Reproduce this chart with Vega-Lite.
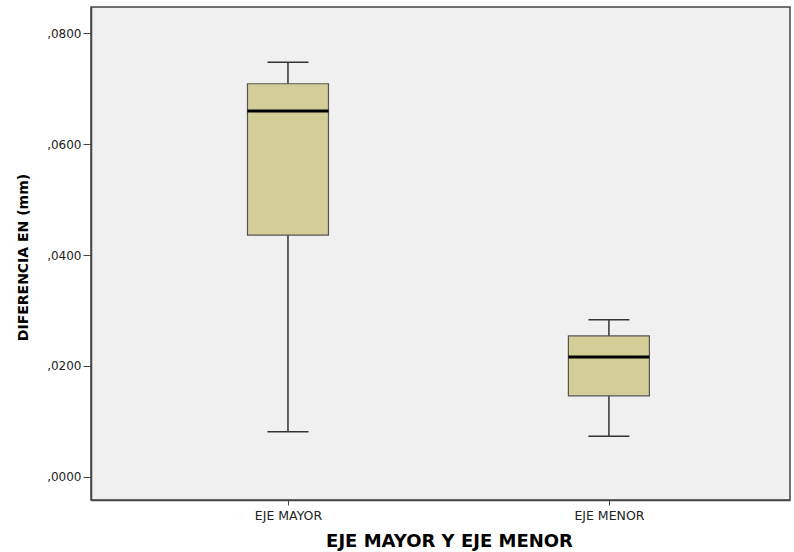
{
  "$schema": "https://vega.github.io/schema/vega-lite/v6.json",
  "width": 699,
  "height": 493,
  "autosize": {"type": "none"},
  "padding": {"left": 91, "top": 7, "right": 4, "bottom": 52},
  "background": "white",
  "config": {
    "view": {"fill": "#f0f0f0", "stroke": "#444444", "strokeWidth": 1.5},
    "font": "DejaVu Sans"
  },
  "data": {
    "values": [
      {"eje": "EJE MAYOR", "min": 0.0081, "q1": 0.0436, "median": 0.0660, "q3": 0.0709, "max": 0.0748},
      {"eje": "EJE MENOR", "min": 0.0073, "q1": 0.0146, "median": 0.0216, "q3": 0.0254, "max": 0.0283}
    ]
  },
  "encoding": {
    "x": {
      "field": "eje", "type": "nominal",
      "scale": {"type": "point", "padding": 0.589, "align": 0.521},
      "axis": {
        "title": "EJE MAYOR Y EJE MENOR", "titleFontSize": 18, "titleFontWeight": "bold", "titleColor": "#000000",
        "titleX": 358, "titleY": 41, "titleAlign": "center", "titleBaseline": "middle",
        "labelAngle": 0, "labelFontSize": 12.5, "labelColor": "#222222", "labelPadding": 4,
        "tickSize": 5, "tickColor": "#444444", "domainColor": "#444444", "domainWidth": 1.5, "grid": false
      }
    }
  },
  "layer": [
    {
      "mark": {"type": "rule", "color": "#333333", "strokeWidth": 1.5},
      "encoding": {
        "y": {
          "field": "min", "type": "quantitative",
          "scale": {"domain": [-0.0042, 0.08475], "nice": false, "zero": false},
          "axis": {
            "title": "DIFERENCIA EN (mm)", "titleFontSize": 14, "titleFontWeight": "bold", "titleColor": "#000000",
            "titleX": -68, "titleY": 250, "titleAngle": -90, "titleAlign": "center", "titleBaseline": "middle",
            "values": [0, 0.02, 0.04, 0.06, 0.08],
            "labelExpr": "replace(format(datum.value, '.4f'), '0.', ',')",
            "labelFontSize": 12, "labelColor": "#222222", "labelPadding": 2,
            "tickSize": 8, "tickColor": "#444444", "domainColor": "#444444", "domainWidth": 1.5, "grid": false
          }
        },
        "y2": {"field": "max"}
      }
    },
    {
      "mark": {"type": "tick", "color": "#333333", "size": 41, "thickness": 1.5, "opacity": 1},
      "encoding": {"y": {"field": "max", "type": "quantitative"}}
    },
    {
      "mark": {"type": "tick", "color": "#333333", "size": 41, "thickness": 1.5, "opacity": 1},
      "encoding": {"y": {"field": "min", "type": "quantitative"}}
    },
    {
      "mark": {"type": "bar", "size": 81, "fill": "#d3ce97", "stroke": "#555555", "strokeWidth": 1.2, "opacity": 1},
      "encoding": {
        "y": {"field": "q1", "type": "quantitative"},
        "y2": {"field": "q3"}
      }
    },
    {
      "mark": {"type": "tick", "color": "#000000", "size": 81, "thickness": 3, "opacity": 1},
      "encoding": {"y": {"field": "median", "type": "quantitative"}}
    }
  ]
}
